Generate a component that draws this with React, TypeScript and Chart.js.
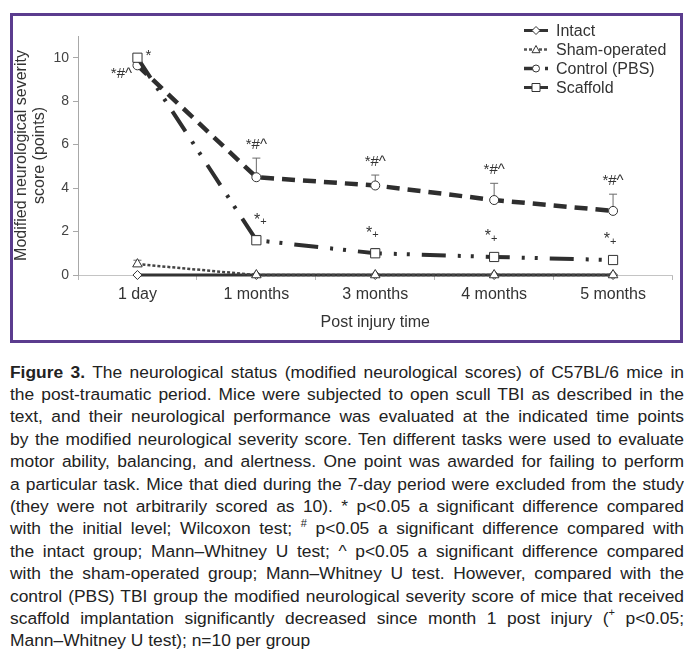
import React, { useEffect, useRef } from "react";
import { Chart, registerables } from "chart.js";

Chart.register(...registerables);

const FONT = '"Liberation Sans", Arial, sans-serif';

const categories = ["1 day", "1 months", "3 months", "4 months", "5 months"];
const intact = [0, 0, 0, 0, 0];
const sham = [0.5, 0, 0, 0, 0];
const control = [9.65, 4.5, 4.12, 3.45, 2.95];
const scaffold = [10, 1.6, 1.0, 0.83, 0.69];

const shamErrTop = [0.68, null, null, null, null];
const controlErrTop = [null, 5.38, 4.6, 4.22, 3.72];
const scaffoldErrTop = [null, 1.82, 1.22, null, null];

const controlMarks = ["*#^", "*#^", "*#^", "*#^", "*#^"];
const scaffoldMarks = ["*", "*+", "*+", "*+", "*+"];

const yTicks = [0, 2, 4, 6, 8, 10];
const seriesNames = ["Intact", "Sham-operated", "Control (PBS)", "Scaffold"];

const captionLines = [
  "<b>Figure 3.</b> The neurological status (modified neurological scores) of C57BL/6 mice in",
  "the post-traumatic period. Mice were subjected to open scull TBI as described in the",
  "text, and their neurological performance was evaluated at the indicated time points",
  "by the modified neurological severity score. Ten different tasks were used to evaluate",
  "motor ability, balancing, and alertness. One point was awarded for failing to perform",
  "a particular task. Mice that died during the 7-day period were excluded from the study",
  "(they were not arbitrarily scored as 10). * p&lt;0.05 a significant difference compared",
  "with the initial level; Wilcoxon test; <sup>#</sup> p&lt;0.05 a significant difference compared with",
  "the intact group; Mann–Whitney U test; ^ p&lt;0.05 a significant difference compared",
  "with the sham-operated group; Mann–Whitney U test. However, compared with the",
  "control (PBS) TBI group the modified neurological severity score of mice that received",
  "scaffold implantation significantly decreased since month 1 post injury (<sup>+</sup> p&lt;0.05;",
  "Mann–Whitney U test); n=10 per group",
];

const INK = "#333333";

function drawMarker(ctx: CanvasRenderingContext2D, style: string, x: number, y: number, r: number) {
  ctx.save();
  ctx.fillStyle = "#ffffff";
  ctx.strokeStyle = INK;
  ctx.lineWidth = 1;
  ctx.setLineDash([]);
  ctx.beginPath();
  if (style === "circle") {
    ctx.arc(x, y, r, 0, Math.PI * 2);
  } else if (style === "rect") {
    ctx.rect(x - r, y - r, 2 * r, 2 * r);
  } else if (style === "rectRot") {
    ctx.moveTo(x, y - r);
    ctx.lineTo(x + r, y);
    ctx.lineTo(x, y + r);
    ctx.lineTo(x - r, y);
    ctx.closePath();
  } else if (style === "triangle") {
    ctx.moveTo(x, y - r);
    ctx.lineTo(x + r, y + r * 0.8);
    ctx.lineTo(x - r, y + r * 0.8);
    ctx.closePath();
  }
  ctx.fill();
  ctx.stroke();
  ctx.restore();
}

const errorBarPlugin = {
  id: "errorBars",
  beforeDatasetsDraw(chart: any) {
    const { ctx, scales } = chart;
    const x = scales.x;
    const y = scales.y;
    const sets: [number[], (number | null)[]][] = [
      [sham, shamErrTop],
      [control, controlErrTop],
      [scaffold, scaffoldErrTop],
    ];
    ctx.save();
    ctx.strokeStyle = "#6a6a6a";
    ctx.lineWidth = 1;
    sets.forEach(([vals, tops]) => {
      tops.forEach((t, i) => {
        if (t == null) return;
        const px = x.getPixelForValue(i);
        const y0 = y.getPixelForValue(vals[i]);
        const y1 = y.getPixelForValue(t);
        ctx.beginPath();
        ctx.moveTo(px, y0);
        ctx.lineTo(px, y1);
        ctx.moveTo(px - 4, y1);
        ctx.lineTo(px + 4, y1);
        ctx.stroke();
      });
    });
    ctx.restore();
  },
};

function drawStarPlus(ctx: CanvasRenderingContext2D, text: string, cx: number, cy: number) {
  ctx.save();
  ctx.fillStyle = INK;
  ctx.textBaseline = "middle";
  if (text === "*+") {
    ctx.font = `16px ${FONT}`;
    const w1 = ctx.measureText("*").width;
    ctx.font = `11px ${FONT}`;
    const w2 = ctx.measureText("+").width;
    const left = cx - (w1 + w2) / 2;
    ctx.font = `16px ${FONT}`;
    ctx.textAlign = "left";
    ctx.fillText("*", left, cy);
    ctx.font = `11px ${FONT}`;
    ctx.fillText("+", left + w1, cy + 2);
  } else {
    ctx.font = `15px ${FONT}`;
    ctx.textAlign = "center";
    ctx.fillText(text, cx, cy);
  }
  ctx.restore();
}

const marksPlugin = {
  id: "marks",
  afterDatasetsDraw(chart: any) {
    const { ctx, scales } = chart;
    const x = scales.x;
    const y = scales.y;
    controlMarks.forEach((m, i) => {
      const px = x.getPixelForValue(i);
      if (i === 0) {
        drawStarPlus(ctx, m, px - 16, y.getPixelForValue(control[i]) + 9);
      } else {
        const top = controlErrTop[i] ?? control[i];
        drawStarPlus(ctx, m, px, y.getPixelForValue(top as number) - 13);
      }
    });
    scaffoldMarks.forEach((m, i) => {
      const px = x.getPixelForValue(i);
      if (i === 0) {
        drawStarPlus(ctx, m, px + 11, y.getPixelForValue(scaffold[i]) - 2);
      } else {
        drawStarPlus(ctx, m, px + (i === 1 ? 4 : -3), y.getPixelForValue(scaffold[i]) - 20);
      }
    });
  },
};

const legendPlugin = {
  id: "customLegend",
  afterDraw(chart: any) {
    const { ctx } = chart;
    const x0 = 511;
    const x1 = 535;
    const tx = 543;
    const rowY = (i: number) => 14.5 + i * 19;
    ctx.save();
    seriesNames.forEach((name, i) => {
      const yy = rowY(i);
      const mx = (x0 + x1) / 2;
      ctx.strokeStyle = INK;
      ctx.lineCap = "butt";
      if (i === 0) {
        ctx.lineWidth = 3;
        ctx.setLineDash([]);
        ctx.beginPath();
        ctx.moveTo(x0, yy);
        ctx.lineTo(x1, yy);
        ctx.stroke();
        drawMarker(ctx, "rectRot", mx, yy, 4);
      } else if (i === 1) {
        ctx.strokeStyle = "#555";
        ctx.lineWidth = 2.5;
        ctx.setLineDash([3, 2]);
        ctx.beginPath();
        ctx.moveTo(x0, yy);
        ctx.lineTo(x1, yy);
        ctx.stroke();
        ctx.setLineDash([]);
        drawMarker(ctx, "triangle", mx, yy, 4);
      } else if (i === 2) {
        ctx.lineWidth = 3.5;
        ctx.setLineDash([]);
        ctx.beginPath();
        ctx.moveTo(x0, yy);
        ctx.lineTo(mx - 3, yy);
        ctx.moveTo(x1 - 3, yy);
        ctx.lineTo(x1, yy);
        ctx.stroke();
        drawMarker(ctx, "circle", mx, yy, 3.5);
      } else {
        ctx.lineWidth = 3;
        ctx.setLineDash([]);
        ctx.beginPath();
        ctx.moveTo(x0, yy);
        ctx.lineTo(x1, yy);
        ctx.stroke();
        drawMarker(ctx, "rect", mx, yy, 4);
      }
      ctx.fillStyle = INK;
      ctx.font = `16px ${FONT}`;
      ctx.textAlign = "left";
      ctx.textBaseline = "middle";
      ctx.fillText(name, tx, yy + 1);
    });
    ctx.restore();
  },
};

export default function App() {
  const ref = useRef<HTMLCanvasElement | null>(null);

  useEffect(() => {
    if (!ref.current) return;
    const pointCommon = {
      pointBackgroundColor: "#ffffff",
      pointBorderColor: INK,
      pointBorderWidth: 1,
      clip: false as any,
    };
    const chart = new Chart(ref.current, {
      type: "line",
      data: {
        labels: categories,
        datasets: [
          {
            label: seriesNames[3],
            data: scaffold,
            borderColor: "#2e2e2e",
            borderWidth: 4,
            borderDash: [24, 12, 3, 10, 3, 12],
            pointStyle: "rect",
            pointRadius: 6.5,
            order: 1,
            ...pointCommon,
          },
          {
            label: seriesNames[2],
            data: control,
            borderColor: "#2e2e2e",
            borderWidth: 4.5,
            borderDash: [13, 8],
            pointStyle: "circle",
            pointRadius: 4.5,
            order: 2,
            ...pointCommon,
          },
          {
            label: seriesNames[1],
            data: sham,
            borderColor: "#444444",
            borderWidth: 2.5,
            borderDash: [3, 2],
            pointStyle: "triangle",
            pointRadius: 5.5,
            order: 3,
            ...pointCommon,
          },
          {
            label: seriesNames[0],
            data: intact,
            borderColor: "#333333",
            borderWidth: 3,
            pointStyle: "rectRot",
            pointRadius: 4.5,
            order: 4,
            ...pointCommon,
          },
        ],
      },
      options: {
        animation: false,
        responsive: false,
        events: [],
        layout: { padding: { top: 20, right: 2, left: 0, bottom: 0 } },
        plugins: {
          legend: { display: false },
          tooltip: { enabled: false },
        },
        scales: {
          x: {
            type: "category",
            offset: true,
            grid: {
              display: true,
              offset: true,
              drawOnChartArea: false,
              drawTicks: true,
              tickLength: 5,
              color: "#b8b8b8",
            },
            border: { color: "#c4c4c4" },
            ticks: {
              font: { family: FONT, size: 16 },
              color: INK,
              padding: 5,
              maxRotation: 0,
              autoSkip: false,
            },
            title: {
              display: true,
              text: "Post injury time",
              font: { family: FONT, size: 16 },
              color: INK,
              padding: { top: 0, bottom: 8 },
            },
            afterFit: (s: any) => {
              s.height = 65;
            },
          },
          y: {
            min: 0,
            max: 11,
            afterBuildTicks: (s: any) => {
              s.ticks = yTicks.map((v) => ({ value: v }));
            },
            grid: {
              display: true,
              drawOnChartArea: false,
              drawTicks: true,
              tickLength: 5,
              color: "#a8a8a8",
            },
            border: { color: "#a8a8a8" },
            ticks: {
              font: { family: FONT, size: 14 },
              color: "#444",
              padding: 4,
            },
            title: {
              display: true,
              text: ["Modified neurological severity", "score (points)"],
              font: { family: FONT, size: 16, lineHeight: 1.125 },
              color: INK,
              padding: { top: 0, bottom: 0 },
            },
            afterFit: (s: any) => {
              s.width = 65;
            },
          },
        },
      } as any,
      plugins: [errorBarPlugin, marksPlugin, legendPlugin],
    });
    return () => chart.destroy();
  }, []);

  return (
    <div style={{ fontFamily: FONT }}>
      <div
        style={{
          marginTop: 4.5,
          marginLeft: 2,
          width: 673,
          height: 330,
          border: "3px solid #5b3c8e",
          boxSizing: "border-box",
          background: "#fff",
        }}
      >
        <canvas ref={ref} width={667} height={324} style={{ display: "block", width: 667, height: 324 }} />
      </div>
      <div
        style={{
          marginTop: 18,
          marginLeft: 2,
          width: 674,
          fontSize: 17.4,
          lineHeight: "22.4px",
          color: "#222",
        }}
      >
        {captionLines.map((l, i) => (
          <div
            key={i}
            style={{
              textAlign: "justify",
              textAlignLast: i === captionLines.length - 1 ? "left" : "justify",
              whiteSpace: "nowrap",
            } as any}
            dangerouslySetInnerHTML={{
              __html: l.replace(/<sup>/g, '<sup style="font-size:11px;line-height:0;position:relative;top:-1px">'),
            }}
          />
        ))}
      </div>
    </div>
  );
}
